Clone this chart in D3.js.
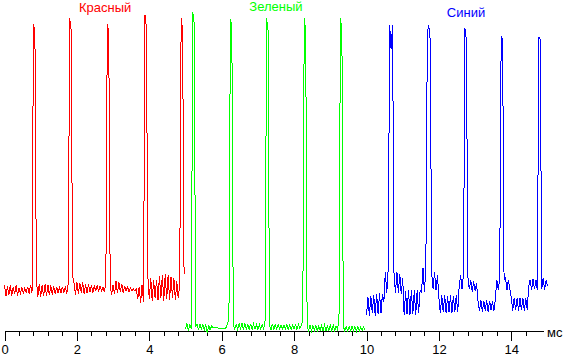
<!DOCTYPE html>
<html><head><meta charset="utf-8">
<script src="https://cdn.jsdelivr.net/npm/d3@7"></script>
<style>
html,body{margin:0;padding:0;background:#fff;}
svg{display:block;font-family:"Liberation Sans",Arial,sans-serif;}
</style></head>
<body><svg id="c" width="569" height="356"></svg>
<script>
// sample step in ms
const sampleStep = 0.04;
// channel start times (ms)
const redStart = 0, greenStart = 5.0, blueStart = 10.0;
// brightness samples (arbitrary units, 0..100)
const redValues = [14.4,10.9,14.0,11.2,14.4,10.9,13.8,11.5,14.2,11.0,
13.5,11.8,13.6,11.9,13.4,12.0,13.8,11.6,14.4,11.8,
96,93,16.5,10.6,14.6,10.6,14.4,10.9,14.6,11.0,
14.4,11.2,14.2,11.4,14.0,11.5,13.8,11.8,13.6,12.0,
13.8,11.9,14.0,11.6,14.8,97.8,94,17.5,15,11.3,
15.2,11.6,15,12,15.2,11.5,14.6,11.9,14.8,12.2,
14.4,12,14.2,12.4,14.4,12.2,14.1,12.5,13.8,12.2,
15.5,96,93,14,11.3,14.4,11.5,15.6,11.9,15.3,
12.2,14.7,11.8,14.1,12.5,13.8,12.2,13.4,12.6,13.1,
12.5,13.0,10.0,13.8,8.8,14.5,9.2,98.8,95,17,
10,16.5,9.5,15.8,10.2,16,9.6,17.3,10.3,17.5,
9.4,17.8,10,17.5,9.8,16.8,10.4,16.5,9.6,15.5,
10.2,14.5,97.8,94,17.8];
const greenValues = [0.5,2.4,0.0,2.2,0.5,99.7,96,1.5,2.2,0.3,
2.2,0.6,2.0,0.4,2.0,-0.5,1.8,0.3,1.6,0.9,
1.2,1.1,1.0,0.9,0.8,0.8,0.8,0.8,1.0,2.2,
4,97.5,95,2,0.6,2.0,0.5,2.4,0.5,2.4,
0.4,2.4,0.5,2.3,0.4,2.3,0.5,2.2,0.6,2.0,
0.5,2.0,0.6,2.0,0.5,3.5,97.7,94,2,0.3,
2.2,0.5,2.0,0.6,2.0,0.6,1.9,0.7,1.9,0.6,
2.0,0.5,1.9,0.6,1.9,0.7,1.9,0.5,2.0,0.8,
1.8,3.5,97.7,94,1.5,0.2,1.8,0.0,1.6,0.2,
1.7,-0.1,1.6,0.2,1.7,0.0,1.8,0.1,1.6,0.2,
1.7,0.0,1.8,0.1,1.6,0.5,3.5,97.8,94,1.5,
0.0,1.4,-0.1,1.3,0.0,1.4,0.1,1.3,-0.1,1.4,
0.0,1.3,0.1,1.3,0.3];
const blueValues = [5.0,10.5,4.8,11.0,5.5,11.2,4.8,11.5,5.2,11.8,
5.5,11.6,9,18.5,12,19.5,95.6,88,95.6,18,
12,18.5,11.8,17.8,11.5,16.5,5.0,12.5,5.2,12.8,
5.0,12.8,5.3,12.8,5.0,12.8,5.5,12.6,12.0,19.7,
12.3,19.5,93,95.6,91,18,13,18.5,12.8,17.5,
10.5,5.5,11.2,5.8,11.2,5.5,11.0,5.8,11.2,5.6,
11.0,6.0,11.2,5.8,14,17.5,13,18,94.6,91,
17,13,16,12.3,15.5,12.5,15,9.5,6.2,9.7,
6.0,9.5,6.3,9.7,6.0,9.5,6.5,9.4,6.3,10,
16,12.8,16.2,92,91,16,16.5,12.8,16,13,
10.4,6.3,10.4,6.5,10.2,6.3,10.4,6.5,10.3,6.3,
10.4,6.5,14,16,12.8,16.2,13,16,12.8,92,
91,13,16.5,12.8,15.8,14.2];

const channelNames = ["Красный","Зеленый","Синий"];
const channelColors = ["#ff0000","#00ff00","#0000ff"];
const channelLabelTimes = [2.78, 7.5, 12.75];
const majorTicks = [0,2,4,6,8,10,12,14];
const minorTicks = d3.range(0, 37).map(i => +(i*0.4).toFixed(1)).filter(v => v <= 14.8);
const unitLabel = "мс";

const svg = d3.select("#c");
const x = d3.scaleLinear().domain([0, 15]).range([4.5, 547.5]);
const y = d3.scaleLinear().domain([0, 100]).range([331, 11]);
const axisY = 331;

// axis line
svg.append("line").attr("x1", x(0)).attr("x2", x(14.9)+0.5)
  .attr("y1", axisY+0.5).attr("y2", axisY+0.5)
  .attr("stroke","#000").attr("shape-rendering","crispEdges");

const gMinor = svg.append("g").attr("transform",`translate(0,${axisY})`)
  .call(d3.axisBottom(x).tickValues(minorTicks.filter(v=>!majorTicks.includes(v))).tickSize(5).tickFormat(""));
gMinor.select(".domain").remove();
const gMajor = svg.append("g").attr("transform",`translate(0,${axisY})`)
  .call(d3.axisBottom(x).tickValues(majorTicks).tickSize(10).tickPadding(4).tickFormat(d3.format("d")));
gMajor.select(".domain").remove();
svg.selectAll(".tick line").attr("shape-rendering","crispEdges").attr("stroke","#000");
gMajor.selectAll("text").attr("font-size","13px").attr("fill","#000")
  .attr("font-family","'Liberation Sans',Arial,sans-serif");

svg.append("text").attr("x", 547).attr("y", 337).attr("font-size","13px")
  .attr("fill","#000").text(unitLabel);

const series = [
  {start: redStart, values: redValues},
  {start: greenStart, values: greenValues},
  {start: blueStart, values: blueValues}
];
series.forEach((s, k) => {
  const line = d3.line()
    .x((d,i) => x(s.start + i*sampleStep))
    .y(d => y(d));
  svg.append("path").attr("d", line(s.values))
    .attr("fill","none").attr("stroke", channelColors[k]).attr("stroke-width",1)
    .attr("shape-rendering","crispEdges");
});

const labelY = [12, 11, 17];
channelNames.forEach((n,k) => {
  svg.append("text").attr("x", x(channelLabelTimes[k])).attr("y", labelY[k])
    .attr("text-anchor","middle").attr("font-size","13px")
    .attr("fill", channelColors[k]).text(n);
});
</script></body></html>
